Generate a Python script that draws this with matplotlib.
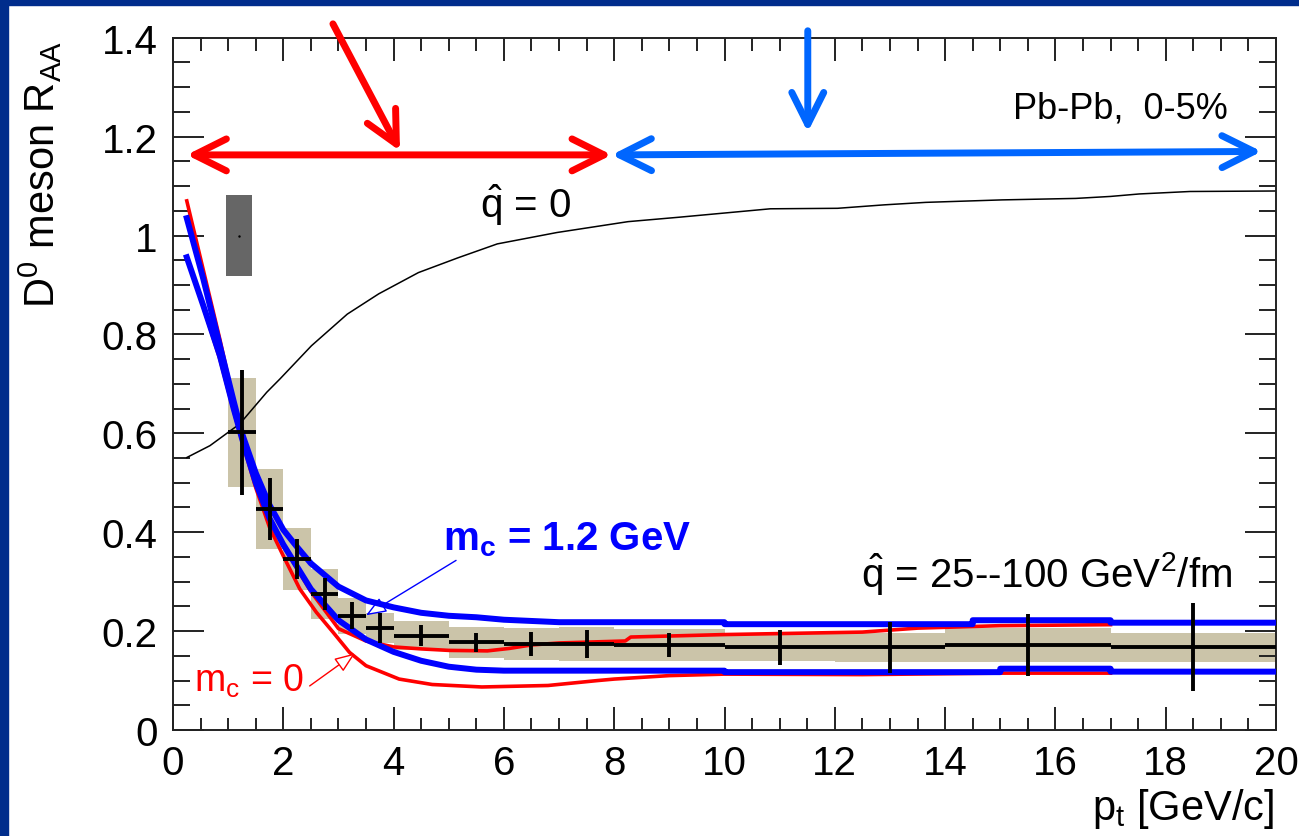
import matplotlib.pyplot as plt
from matplotlib.patches import Rectangle
from matplotlib.ticker import MultipleLocator, FixedLocator, FixedFormatter

plt.rcParams['font.family'] = ['Liberation Sans', 'DejaVu Sans']
plt.rcParams['mathtext.fontset'] = 'custom'
plt.rcParams['mathtext.rm'] = 'Liberation Sans'
plt.rcParams['mathtext.it'] = 'Liberation Sans:italic'
plt.rcParams['mathtext.bf'] = 'Liberation Sans:bold'

# D0 R_AA measurement (Pb-Pb 0-5%)
pt = [1.25, 1.75, 2.25, 2.75, 3.25, 3.75, 4.5, 5.5, 6.5, 7.5, 9, 11, 13, 15.5, 18.5]
pt_err = [0.25, 0.25, 0.25, 0.25, 0.25, 0.25, 0.5, 0.5, 0.5, 0.5, 1, 1, 1, 1.5, 1.5]
raa = [0.602, 0.447, 0.346, 0.275, 0.231, 0.206, 0.191, 0.177, 0.174, 0.174,
       0.172, 0.167, 0.167, 0.172, 0.167]
raa_stat = [0.126, 0.063, 0.04, 0.032, 0.027, 0.03, 0.022, 0.02, 0.025, 0.028,
            0.025, 0.036, 0.051, 0.062, 0.089]
raa_syst = [0.11, 0.081, 0.063, 0.05, 0.036, 0.03, 0.03, 0.032, 0.032, 0.035,
            0.032, 0.028, 0.03, 0.035, 0.03]

# normalisation uncertainty box
norm_pt, norm_halfwidth = 1.2, 0.235
norm_val, norm_err = 1.0, 0.081

# model curves
q0_pt = [0.25, 0.67, 1.21, 1.70, 1.94, 2.51, 3.16, 3.73, 4.45, 5.17, 5.88, 6.96,
         8.25, 9.18, 10.83, 12.05, 12.9, 13.65, 15.03, 16.37, 17.0, 17.52, 18.44, 20.0]
q0 = [0.551, 0.575, 0.619, 0.683, 0.71, 0.777, 0.841, 0.882, 0.925, 0.955, 0.983, 1.006,
      1.028, 1.037, 1.054, 1.055, 1.062, 1.067, 1.072, 1.075, 1.079, 1.084, 1.089, 1.09]

blue_hi_pt = [0.25, 0.55, 0.85, 1.1, 1.25, 1.5, 1.75, 2.0, 2.25, 2.5, 3.0, 3.5, 4.0,
              4.5, 5.0, 5.5, 6.0, 7.0, 10.0, 10.0, 14.5, 14.5, 17.0, 17.0, 20.0]
blue_hi = [1.035, 0.912, 0.777, 0.665, 0.60, 0.52, 0.455, 0.405, 0.37, 0.337, 0.29,
           0.262, 0.248, 0.237, 0.231, 0.228, 0.223, 0.218, 0.218, 0.214, 0.214,
           0.222, 0.222, 0.217, 0.217]
blue_lo_pt = [0.25, 0.55, 0.85, 1.1, 1.25, 1.5, 1.75, 2.0, 2.5, 3.0, 3.5, 4.0, 4.5,
              5.0, 5.5, 6.0, 10.0, 10.0, 15.0, 15.0, 17.0, 17.0, 20.0]
blue_lo = [0.956, 0.858, 0.757, 0.65, 0.59, 0.50, 0.428, 0.375, 0.285, 0.222, 0.183,
           0.158, 0.14, 0.128, 0.122, 0.12, 0.12, 0.117, 0.117, 0.124, 0.124, 0.118, 0.118]
red_hi_pt = [0.25, 0.55, 0.85, 1.1, 1.25, 1.5, 1.75, 2.0, 2.5, 3.0, 3.5, 4.0, 4.5,
             5.0, 5.7, 6.1, 6.5, 7.0, 8.2, 8.3, 10.0, 12.5, 13.5, 15.0, 17.0]
red_hi = [1.07, 0.93, 0.79, 0.665, 0.60, 0.505, 0.43, 0.372, 0.28, 0.205, 0.18, 0.168,
          0.164, 0.161, 0.16, 0.165, 0.172, 0.176, 0.18, 0.188, 0.193, 0.198, 0.206,
          0.211, 0.213]
red_lo_pt = [0.25, 0.55, 0.85, 1.1, 1.25, 1.5, 1.75, 2.0, 2.3, 2.6, 2.9, 3.2, 3.5,
             4.1, 4.7, 5.6, 6.8, 7.7, 8.0, 9.0, 10.0, 12.5, 15.0, 17.0]
red_lo = [0.956, 0.855, 0.75, 0.645, 0.585, 0.49, 0.41, 0.352, 0.285, 0.238, 0.198,
          0.157, 0.13, 0.103, 0.092, 0.087, 0.09, 0.10, 0.103, 0.11, 0.113, 0.112,
          0.115, 0.115]

# slide arrows: (tail, tip) in data coordinates
red_span = ((0.248, 1.163), (7.955, 1.163))
blue_span = ((7.955, 1.163), (19.74, 1.170))
red_pointer = ((2.90, 1.428), (4.116, 1.171))
blue_pointer = ((11.51, 1.414), (11.51, 1.209))

RED = '#ff0000'
BLUE = '#0000ff'
ARROW_BLUE = '#0066ff'
TAN = '#cbc4a9'

fig = plt.figure(figsize=(12.99, 8.37), dpi=100)
ax = fig.add_axes([173 / 1299, 1 - 731 / 837, (1276 - 173) / 1299, (731 - 38.7) / 837])

# slide frame
fig.patches.append(Rectangle((0, 0), 8 / 1299, 1, transform=fig.transFigure,
                             color='#002d8c', zorder=0))
fig.patches.append(Rectangle((0, 1 - 6 / 837), 1, 6 / 837, transform=fig.transFigure,
                             color='#002d8c', zorder=0))

# systematic boxes
ax.bar(pt, [2 * s for s in raa_syst], bottom=[r - s for r, s in zip(raa, raa_syst)],
       width=[2 * e for e in pt_err], color=TAN, linewidth=0, zorder=1)
ax.bar(norm_pt, 2 * norm_err, bottom=norm_val - norm_err, width=2 * norm_halfwidth,
       color='#666666', linewidth=0, zorder=1)
ax.plot(norm_pt, norm_val, marker='.', ms=1.5, color='black', zorder=2)

ax.plot(q0_pt, q0, color='black', lw=1.1, zorder=2)
ax.plot(red_hi_pt, red_hi, color=RED, lw=2.6, zorder=3)
ax.plot(red_lo_pt, red_lo, color=RED, lw=2.6, zorder=3)
ax.plot(blue_hi_pt, blue_hi, color=BLUE, lw=4.3, zorder=4)
ax.plot(blue_lo_pt, blue_lo, color=BLUE, lw=4.3, zorder=4)

ax.errorbar(pt, raa, xerr=pt_err, yerr=raa_stat, fmt='none', ecolor='black',
            elinewidth=2.8, capsize=0, zorder=5)

# arrows on top of the frame
head = 'head_length=2.3,head_width=1.15'
for (tail, tip), col, style in [(red_span, RED, '<->'), (blue_span, ARROW_BLUE, '<->'),
                                (red_pointer, RED, '->'), (blue_pointer, ARROW_BLUE, '->')]:
    ax.annotate('', xy=tip, xytext=tail, annotation_clip=False,
                arrowprops=dict(arrowstyle=f'{style},{head}', color=col, lw=5,
                                mutation_scale=10, shrinkA=0, shrinkB=0),
                zorder=6)

# texts
ax.text(15.23, 1.2396, 'Pb-Pb,  0-5%', fontsize=26, color='black')
ax.text(5.567, 1.037, r'$\hat{\mathrm{q}}$ = 0', fontsize=29, color='black')
ax.text(12.47, 0.292, r'$\hat{\mathrm{q}}$ = 25--100 GeV$^{\mathrm{2}}$/fm',
        fontsize=29, color='black')
ax.annotate(r'm$_\mathbf{c}$ = 1.2 GeV', xy=(3.50, 0.232), xytext=(4.90, 0.366),
            fontsize=29, fontweight='bold', color=BLUE,
            arrowprops=dict(arrowstyle='-|>,head_length=0.9,head_width=0.35',
                            color=BLUE, fc='white', lw=1.0, shrinkA=0, shrinkB=0,
                            relpos=(0.07, 0.0), mutation_scale=14))
ax.annotate(r'm$_\mathrm{c}$ = 0', xy=(3.30, 0.155), xytext=(0.386, 0.0795),
            fontsize=27, color=RED,
            arrowprops=dict(arrowstyle='-|>,head_length=0.9,head_width=0.35',
                            color=RED, fc='white', lw=1.0, shrinkA=0, shrinkB=0,
                            relpos=(1.05, 0.35), mutation_scale=14))

# axes
ax.set_xlim(0, 20)
ax.set_ylim(0, 1.4)
ax.xaxis.set_major_locator(MultipleLocator(2))
ax.xaxis.set_minor_locator(MultipleLocator(0.5))
ax.yaxis.set_major_locator(FixedLocator([0, 0.2, 0.4, 0.6, 0.8, 1.0, 1.2, 1.4]))
ax.yaxis.set_major_formatter(FixedFormatter(['0', '0.2', '0.4', '0.6', '0.8', '1', '1.2', '1.4']))
ax.yaxis.set_minor_locator(MultipleLocator(0.05))
ax.tick_params(which='both', direction='in', top=True, right=True, width=1.4,
               colors='#222222', labelcolor='black', labelsize=29)
ax.tick_params(axis='x', which='major', length=16.5, pad=10)
ax.tick_params(axis='x', which='minor', length=9)
ax.tick_params(axis='y', which='major', length=22, pad=11)
ax.tick_params(axis='y', which='minor', length=12)
for sp in ax.spines.values():
    sp.set_linewidth(1.4)
    sp.set_color('#222222')

fig.text(55 / 1299, 1 - 41 / 837, r'D$^{\mathrm{0}}$ meson R$_{\mathrm{AA}}$', fontsize=30,
         rotation=90, ha='right', va='baseline', rotation_mode='anchor')
fig.text(1274 / 1299, 1 - 820 / 837, r'p$_{\mathrm{t}}$ [GeV/c]', fontsize=30,
         ha='right', va='baseline')

fig.savefig('out.png', dpi=100, facecolor='white')
